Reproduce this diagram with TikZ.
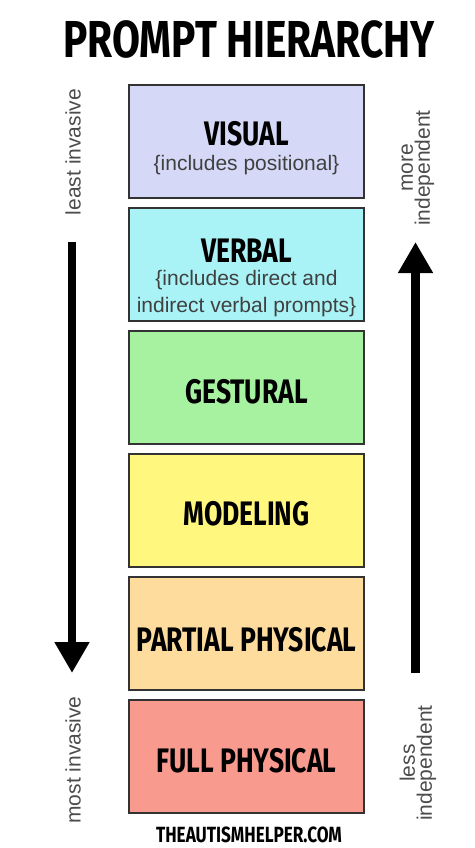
\documentclass[tikz,border=0pt]{standalone}
\usepackage{fontspec}
\setmainfont{Liberation Sans}
\newfontfamily\headfont[FakeStretch=0.78]{Fira Sans}
\usetikzlibrary{arrows.meta, positioning}

\definecolor{visualfill}{HTML}{D5D9F7}
\definecolor{verbalfill}{HTML}{A9F3F7}
\definecolor{gesturalfill}{HTML}{A6F2A0}
\definecolor{modelingfill}{HTML}{FFF77E}
\definecolor{partialfill}{HTML}{FDDC9E}
\definecolor{fullfill}{HTML}{F99A8F}

\begin{document}
\begin{tikzpicture}[
    x=1pt, y=-1pt,
    stage/.style={draw=black!80, line width=1.8pt, minimum width=235pt,
                  minimum height=113pt, fill=#1},
    head/.style={font=\headfont\bfseries\fontsize{34}{34}\selectfont},
    note/.style={font=\fontsize{21}{27}\selectfont, text=black!75, align=center},
    side/.style={font=\fontsize{21}{17}\selectfont, text=black!70, align=center, rotate=90},
    bigarrow/.style={line width=8.5pt, -{Triangle[width=33pt,length=31pt]}},
    node distance=8.2pt
  ]
  \useasboundingbox (0,0) rectangle (474,848);

  % Title
  \node[font=\headfont\bfseries\fontsize{52}{52}\selectfont] (title) at (249,39.5) {PROMPT HIERARCHY};

  % Stages of the hierarchy
  \node[stage=visualfill] (visual) at (246.5,141.5) {};
  \node[stage=verbalfill, below=of visual] (verbal) {};
  \node[stage=gesturalfill, below=of verbal] (gestural) {};
  \node[stage=modelingfill, below=of gestural] (modeling) {};
  \node[stage=partialfill, below=of modeling] (partial) {};
  \node[stage=fullfill, below=of partial] (full) {};

  % Stage labels
  \node[head, yshift=8pt] (visuallbl) at (visual.center) {VISUAL};
  \node[note, below=2pt of visuallbl] (visualnote) {\{includes positional\}};
  \node[head, yshift=13.5pt] (verballbl) at (verbal.center) {VERBAL};
  \node[note, below=0pt of verballbl] (verbalnote) {\{includes direct and\\indirect verbal prompts\}};
  \node[head, yshift=-4pt] (gesturallbl) at (gestural.center) {GESTURAL};
  \node[head, yshift=-3pt] (modelinglbl) at (modeling.center) {MODELING};
  \node[head, yshift=-6pt] (partiallbl) at (partial.center) {PARTIAL PHYSICAL};
  \node[head, yshift=-4pt] (fulllbl) at (full.center) {FULL PHYSICAL};

  % Side labels
  \node[side] (least) at (73,152) {least invasive};
  \node[side] (most) at (73,760) {most invasive};
  \node[side] (more) at (418,168) {more\\independent};
  \node[side] (less) at (418,763) {less\\independent};

  % Arrows
  \coordinate (downtop) at (72,242);
  \coordinate (downend) at (72,673);
  \coordinate (uptop) at (415.5,242);
  \coordinate (upend) at (415.5,673);
  \draw[bigarrow] (downtop) -- (downend);
  \draw[bigarrow] (upend) -- (uptop);

  % Footer
  \node[font=\headfont\bfseries\fontsize{22}{22}\selectfont] (footer) at (249,835) {THEAUTISMHELPER.COM};
\end{tikzpicture}
\end{document}
